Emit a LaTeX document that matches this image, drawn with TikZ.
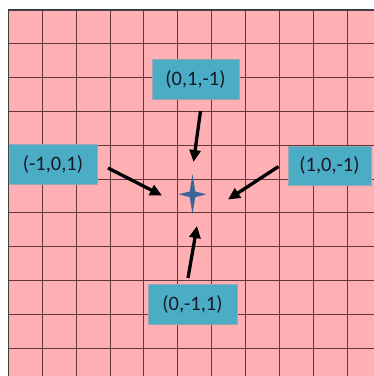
\documentclass[tikz,border=0pt]{standalone}
\usepackage{fontspec}
\setmainfont{Carlito}
\usetikzlibrary{arrows.meta}
\definecolor{gridpink}{RGB}{255,176,181}
\definecolor{gridline}{RGB}{100,56,58}
\definecolor{boxteal}{RGB}{75,172,198}
\definecolor{boxedge}{RGB}{150,168,178}
\definecolor{starblue}{RGB}{59,102,152}
\definecolor{txt}{RGB}{25,25,35}
\tikzset{
  coordbox/.style={rectangle, fill=boxteal, draw=boxedge, line width=0.8pt,
    inner sep=0pt, text=txt, font=\fontsize{20.5}{24}\selectfont},
  pointer/.style={line width=3.3pt, black, -{Triangle[length=12pt,width=11pt]}},
  gridrule/.style={gridline, line width=1pt}
}
\begin{document}
\begin{tikzpicture}[x=1pt,y=-1pt]
\useasboundingbox (0,0) rectangle (374,376);
\fill[white] (0,0) rectangle (374,376);
\fill[gridpink] (8.5,10) rectangle (374,376);
% grid
\foreach \i in {1,...,10} {
  \draw[gridrule] ({8.5+33.85*\i},10) -- ({8.5+33.85*\i},376);
  \draw[gridrule] (8.5,{10+33.8*\i}) -- (374,{10+33.8*\i});
}
\draw[line width=1.5pt, black!75] (8.5,376) -- (8.5,10) -- (374,10);
% star
\fill[starblue] (192.5,174) -- (195.3,191.5) -- (206.5,194.3) -- (195.3,197.1)
  -- (192.5,214) -- (189.7,197.1) -- (178.5,194.3) -- (189.7,191.5) -- cycle;
% boxes
\node[coordbox, minimum width=87pt, minimum height=40pt] (top) at (195.5,79) {(0,1,-1)};
\node[coordbox, minimum width=88pt, minimum height=40pt] (left) at (53,164) {(-1,0,1)};
\node[coordbox, minimum width=83pt, minimum height=39pt] (right) at (329.5,165.5) {(1,0,-1)};
\node[coordbox, minimum width=89pt, minimum height=40pt] (bottom) at (192.5,304) {(0,-1,1)};
% arrows
\coordinate (ts) at (200.5,111);
\coordinate (te) at (193.5,162);
\coordinate (ls) at (108,168);
\coordinate (le) at (162,195.5);
\coordinate (rs) at (278.5,166.5);
\coordinate (re) at (228,199.5);
\coordinate (bs) at (188,278);
\coordinate (be) at (197,226);
\draw[pointer] (ts) -- (te);
\draw[pointer] (ls) -- (le);
\draw[pointer] (rs) -- (re);
\draw[pointer] (bs) -- (be);
\end{tikzpicture}
\end{document}
